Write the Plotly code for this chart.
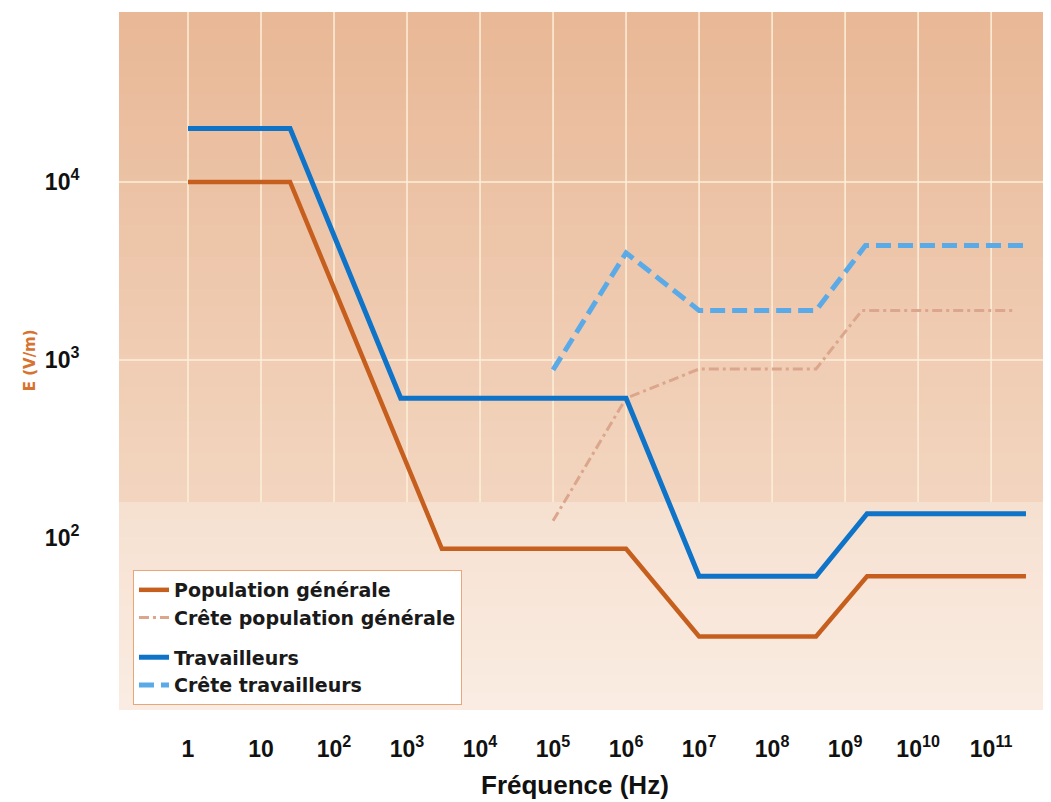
import plotly.graph_objects as go

# ---- data ----
freq_pop = [1, 25, 3e3, 1e6, 1e7, 4e8, 2e9, 3e11]
e_pop = [10000, 10000, 87, 87, 28, 28, 61, 61]

freq_pop_peak = [1e5, 1e6, 1e7, 4e8, 1.7e9, 2.2e11]
e_pop_peak = [125, 610, 890, 890, 1900, 1900]

freq_trav = [1, 25, 820, 1e6, 1e7, 4e8, 2e9, 3e11]
e_trav = [20000, 20000, 610, 610, 61, 61, 137, 137]

freq_trav_peak = [1e5, 1e6, 1e7, 4e8, 1.9e9, 3.3e11]
e_trav_peak = [880, 4000, 1900, 1900, 4400, 4400]

x_tickvals = [1, 10, 1e2, 1e3, 1e4, 1e5, 1e6, 1e7, 1e8, 1e9, 1e10, 1e11]
x_ticktext = ["1", "10", "10<sup>2</sup>", "10<sup>3</sup>", "10<sup>4</sup>",
              "10<sup>5</sup>", "10<sup>6</sup>", "10<sup>7</sup>", "10<sup>8</sup>",
              "10<sup>9</sup>", "10<sup>10</sup>", "10<sup>11</sup>"]
y_tickvals = [1e2, 1e3, 1e4]
y_ticktext = ["10<sup>2</sup>", "10<sup>3</sup>", "10<sup>4</sup>"]

fig = go.Figure()

fig.add_trace(go.Scatter(x=freq_pop, y=e_pop, mode="lines", name="Population générale",
                         legendgroup="pop",
                         line=dict(color="#C65F1E", width=4.5)))
fig.add_trace(go.Scatter(x=freq_pop_peak, y=e_pop_peak, mode="lines",
                         name="Crête population générale", legendgroup="pop",
                         line=dict(color="#DBA68C", width=3, dash="10px,4px,3px,4px")))
fig.add_trace(go.Scatter(x=freq_trav, y=e_trav, mode="lines", name="Travailleurs",
                         legendgroup="trav",
                         line=dict(color="#0F73C8", width=5)))
fig.add_trace(go.Scatter(x=freq_trav_peak, y=e_trav_peak, mode="lines",
                         name="Crête travailleurs", legendgroup="trav",
                         line=dict(color="#5AAAE8", width=5, dash="15px,7px")))

# background gradient + grid (styling only)
shapes = []
def lerp(c1, c2, t):
    return tuple(round(a + (b - a) * t) for a, b in zip(c1, c2))

split = 0.298
n = 30
top_c, mid_c = (232, 184, 150), (243, 213, 192)
for i in range(n):
    y0 = split + (1 - split) * i / n
    y1 = split + (1 - split) * (i + 1) / n + 0.002
    c = lerp(mid_c, top_c, (i + 0.5) / n)
    shapes.append(dict(type="rect", xref="x domain", yref="y domain", x0=0, x1=1,
                       y0=y0, y1=min(y1, 1), fillcolor="rgb(%d,%d,%d)" % c,
                       line=dict(width=0), layer="below"))
low_top, low_bot = (246, 224, 208), (250, 237, 227)
m = 12
for i in range(m):
    y0 = split * i / m
    y1 = split * (i + 1) / m + 0.002
    c = lerp(low_bot, low_top, (i + 0.5) / m)
    shapes.append(dict(type="rect", xref="x domain", yref="y domain", x0=0, x1=1,
                       y0=y0, y1=min(y1, split), fillcolor="rgb(%d,%d,%d)" % c,
                       line=dict(width=0), layer="below"))
# grid lines only in the upper (darker) panel
for xv in x_tickvals:
    shapes.append(dict(type="line", xref="x", yref="y domain", x0=xv, x1=xv,
                       y0=split, y1=1, line=dict(color="#FDEFD9", width=1.5),
                       layer="below"))
for yv in y_tickvals:
    if yv >= 1e3:
        shapes.append(dict(type="line", xref="x domain", yref="y", x0=0, x1=1,
                           y0=yv, y1=yv, line=dict(color="#FDEFD9", width=1.5),
                           layer="below"))

tickfont = dict(family="Liberation Sans Narrow, Liberation Sans", size=23,
                color="#111", weight="bold")

# page body has an 8px margin: figure is sized/offset to compensate
fig.update_layout(
    width=1043, height=794,
    margin=dict(l=111, r=0, t=4, b=92, autoexpand=False),
    paper_bgcolor="white",
    plot_bgcolor="rgba(0,0,0,0)",
    shapes=shapes,
    showlegend=True,
    legend=dict(x=0.015, y=0.2006, xanchor="left", yanchor="top",
                bgcolor="white", bordercolor="#E9A679", borderwidth=1,
                font=dict(family="DejaVu Sans", size=19, color="#1a1a1a", weight="bold"),
                tracegroupgap=12, itemwidth=30),
    xaxis=dict(type="log", range=[-0.945, 11.82], tickvals=x_tickvals, ticktext=x_ticktext,
               showgrid=False, zeroline=False, automargin=False,
               showline=False, ticks="outside", ticklen=18, tickcolor="rgba(0,0,0,0)",
               tickfont=tickfont),
    yaxis=dict(type="log", range=[1.034, 4.955], tickvals=y_tickvals, ticktext=y_ticktext,
               showgrid=False, zeroline=False, automargin=False,
               showline=False, ticks="outside", ticklen=34, tickcolor="rgba(0,0,0,0)",
               tickfont=tickfont),
    annotations=[
        dict(text="<b>Fréquence (Hz)</b>", xref="paper", yref="paper", x=0.489, y=-0.1075,
             xanchor="center", yanchor="middle", showarrow=False,
             font=dict(family="Liberation Sans Narrow, Liberation Sans", size=26, color="#111")),
        dict(text="<b>E (V/m)</b>", xref="paper", yref="paper", x=-0.0955, y=0.501,
             xanchor="center", yanchor="middle", showarrow=False, textangle=-90,
             font=dict(family="DejaVu Sans", size=15, color="#D7722F")),
    ],
)

fig.write_html("out.html")
